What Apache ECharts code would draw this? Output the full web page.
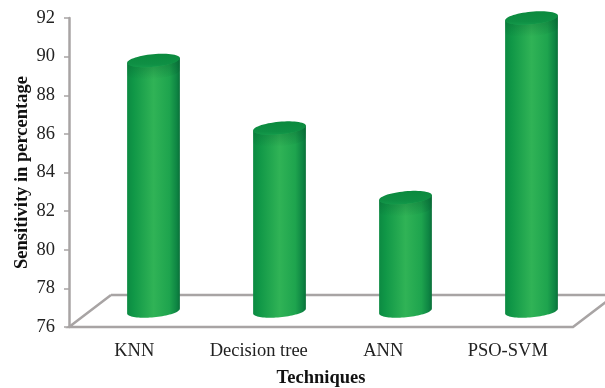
<!DOCTYPE html>
<html>
<head>
<meta charset="utf-8">
<style>html,body{margin:0;padding:0;background:#fff}#chart{width:605px;height:388px}</style>
<script src="https://cdn.jsdelivr.net/npm/echarts@6/dist/echarts.min.js"></script>
</head>
<body>
<div id="chart"></div>
<script>
const categories = ['KNN', 'Decision tree', 'ANN', 'PSO-SVM'];
const sensitivity = [89.8, 86.3, 82.7, 92.0];
const yMin = 76, yMax = 92, yStep = 2;

const FONT = '"Liberation Serif", "Times New Roman", serif';
const AXIS_GREY = '#a8a4a4';
const RX = 26.5, RY = 6.3, TILT = -5.4 * Math.PI / 180;

// Point on a tilted ellipse at parameter t around (cx, cy)
function ellipsePoint(cx, cy, t) {
  const x = RX * Math.cos(t), y = RY * Math.sin(t);
  return [cx + x * Math.cos(TILT) - y * Math.sin(TILT),
          cy + x * Math.sin(TILT) + y * Math.cos(TILT)];
}
function arc(cx, cy, from, to, n) {
  const pts = [];
  for (let i = 0; i <= n; i++) pts.push(ellipsePoint(cx, cy, from + (to - from) * i / n));
  return pts;
}
const bodyGradient = {
  type: 'linear', x: 0, y: 0, x2: 1, y2: 0,
  colorStops: [
    { offset: 0, color: '#0c8a42' }, { offset: 0.12, color: '#109747' },
    { offset: 0.5, color: '#30b356' }, { offset: 0.8, color: '#1ea44e' },
    { offset: 0.94, color: '#0e8543' }, { offset: 1, color: '#0a7039' }
  ]
};
const capGradient = {
  type: 'linear', x: 0, y: 0, x2: 0, y2: 1,
  colorStops: [{ offset: 0, color: '#0b8a3e' }, { offset: 0.75, color: '#0f8f44' }, { offset: 1, color: '#13994a' }]
};
const shadeGradient = {
  type: 'linear', x: 0, y: 0, x2: 0, y2: 1,
  colorStops: [{ offset: 0, color: 'rgba(6,90,45,0.45)' }, { offset: 1, color: 'rgba(6,90,45,0)' }]
};

// One cylinder per category, standing a little behind the front edge of the floor
function renderCylinder(params, api) {
  const idx = api.value(0);
  const top = api.coord([idx, api.value(1)]);
  const base = api.coord([idx, yMin]);
  const cx = top[0], topY = top[1], baseY = base[1] - 16;
  const body = [ellipsePoint(cx, topY, Math.PI)]
    .concat(arc(cx, baseY, Math.PI, 0, 40))
    .concat([ellipsePoint(cx, topY, 0)]);
  const shade = arc(cx, topY, Math.PI, 0, 30)
    .concat(arc(cx, topY + 12, 0, Math.PI, 30));
  return {
    type: 'group',
    children: [
      { type: 'polygon', shape: { points: body }, style: { fill: bodyGradient } },
      { type: 'polygon', shape: { points: shade }, style: { fill: shadeGradient } },
      { type: 'polygon', shape: { points: arc(cx, topY, 0, Math.PI * 2, 60) }, style: { fill: capGradient } }
    ]
  };
}

// Floor outline of the 3D plot box, drawn behind the cylinders
function renderFloor(params, api) {
  const front = api.coord([0, yMin])[1];
  const back = front - 32;
  const left = 69, right = 573, depth = 42;
  return {
    type: 'polyline',
    shape: { points: [[left + depth, back], [left, front], [right, front], [right + depth, back], [left + depth, back]] },
    style: { fill: '#fff', stroke: AXIS_GREY, lineWidth: 2.5 }
  };
}

const chart = echarts.init(document.getElementById('chart'), null, { renderer: 'canvas' });
chart.setOption({
  animation: false,
  backgroundColor: '#ffffff',
  grid: [
    { left: 72, top: 18, width: 498, height: 309, outerBoundsMode: 'none' },
    { left: 90.5, top: 18, width: 504, height: 309, outerBoundsMode: 'none' }
  ],
  xAxis: [
    {
      gridIndex: 0, type: 'category', data: categories,
      axisLine: { show: false }, axisTick: { show: false },
      axisLabel: { interval: 0, hideOverlap: false, color: '#222', fontFamily: FONT, fontSize: 18.5, margin: 15 },
      name: 'Techniques', nameLocation: 'middle', nameGap: 42,
      nameTextStyle: { color: '#111', fontFamily: FONT, fontSize: 18.5, fontWeight: 'bold' }
    },
    { gridIndex: 1, type: 'category', data: categories, show: false }
  ],
  yAxis: [
    {
      gridIndex: 0, type: 'value', min: yMin, max: yMax, interval: yStep, offset: 3,
      axisLine: { show: true, lineStyle: { color: AXIS_GREY, width: 2.5 } },
      axisTick: { show: true, length: 5, lineStyle: { color: AXIS_GREY, width: 1.5 } },
      splitLine: { show: false },
      axisLabel: { color: '#222', fontFamily: FONT, fontSize: 18.5, margin: 14, padding: [2, 0, 0, 0] },
      name: 'Sensitivity in percentage', nameLocation: 'middle', nameGap: 37, nameMoveOverlap: false,
      nameTextStyle: { color: '#111', fontFamily: FONT, fontSize: 18.5, fontWeight: 'bold' }
    },
    { gridIndex: 1, type: 'value', min: yMin, max: yMax, interval: yStep, show: false }
  ],
  series: [
    {
      type: 'custom', xAxisIndex: 0, yAxisIndex: 0, z: 1, silent: true, clip: false,
      data: [[0, yMin]], renderItem: renderFloor
    },
    {
      type: 'custom', name: 'Sensitivity', xAxisIndex: 1, yAxisIndex: 1, z: 2, clip: false,
      encode: { x: 0, y: 1 },
      data: sensitivity.map((v, i) => [i, v]), renderItem: renderCylinder
    }
  ]
});
</script>
</body>
</html>
